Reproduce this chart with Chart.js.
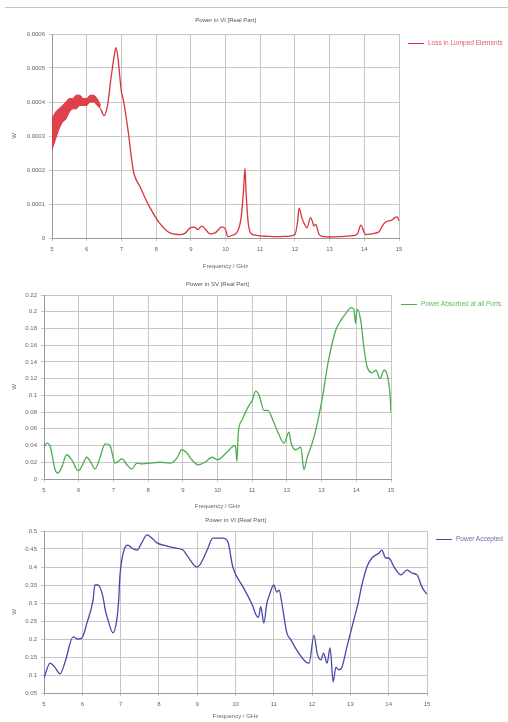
<!DOCTYPE html>
<html>
<head>
<meta charset="utf-8">
<script src="https://cdn.jsdelivr.net/npm/chart.js@4/dist/chart.umd.min.js"></script>
<style>
  body { margin: 0; background: #fff; width: 508px; height: 722px; overflow: hidden; position: relative; font-family: "Liberation Sans", Arial, sans-serif; }
  .topline { position: absolute; left: 5px; top: 7px; width: 503px; height: 1px; background: #c4c4c4; }
  .box { position: absolute; left: 0; width: 508px; }
  .legend { position: absolute; font-size: 6.5px; white-space: nowrap; line-height: 8px; }
  .legend span { display: inline-block; width: 16px; height: 1px; vertical-align: middle; margin-right: 4px; }
</style>
</head>
<body>
<div class="topline"></div>
<div class="box" style="top:10px;height:262px"><canvas id="lossChart"></canvas></div>
<div class="box" style="top:272px;height:240px"><canvas id="absorbChart"></canvas></div>
<div class="box" style="top:512px;height:210px"><canvas id="acceptChart"></canvas></div>
<div class="legend" style="left:408px;top:39px;color:#d9606a"><span style="background:#d8343c"></span>Loss in Lumped Elements</div>
<div class="legend" style="left:401px;top:300px;color:#5cb85c"><span style="background:#4cae4c"></span>Power Absorbed at all Ports</div>
<div class="legend" style="left:436px;top:535px;color:#6a6ab4"><span style="background:#4848a8"></span>Power Accepted</div>
<script>
// ---- data: chart 1 (Loss in Lumped Elements) ----
const lossBandFreq  = [5.0, 5.1, 5.2, 5.3, 5.4, 5.5, 5.6, 5.7, 5.8, 5.9, 6.0, 6.1, 6.2, 6.3, 6.4];
const lossBandUpper = [0.00035, 0.00037, 0.00038, 0.00039, 0.0004, 0.00041, 0.00041, 0.00042, 0.00042, 0.00041, 0.00041, 0.00042, 0.00042, 0.00041, 0.00039];
const lossBandLower = [0.00026, 0.00029, 0.00032, 0.00034, 0.00035, 0.00037, 0.00038, 0.00038, 0.00039, 0.00039, 0.00039, 0.0004, 0.0004, 0.00039, 0.00038];
const lossFreq = [6.4, 6.5, 6.6, 6.7, 6.8, 6.84, 6.9, 7.0, 7.05, 7.1, 7.2, 7.34, 7.54, 7.82, 8.1, 8.4, 8.7, 8.85, 8.98, 9.1,
                  9.2, 9.32, 9.45, 9.55, 9.7, 9.9, 10.0, 10.07, 10.2, 10.35, 10.45, 10.52, 10.56, 10.6, 10.66, 10.75, 10.9, 11.0, 11.2, 11.5,
                  11.8, 12.0, 12.08, 12.12, 12.2, 12.26, 12.35, 12.45, 12.5, 12.55, 12.6, 12.7, 12.85, 13.0, 13.3, 13.6, 13.8, 13.9, 14.0, 14.05,
                  14.2, 14.42, 14.55, 14.62, 14.7, 14.8, 14.88, 14.95, 15.0];
const lossValues = [0.00038, 0.00036, 0.00039, 0.00047, 0.00054, 0.00056, 0.00053, 0.00043, 0.00041, 0.00038, 0.00031, 0.0002, 0.00015, 0.00009, 0.000044, 0.000015, 0.00001, 0.000015, 0.00003, 0.000032,
                    0.000025, 0.000035, 0.000022, 0.000012, 0.000015, 0.000033, 0.000025, 0.000004, 0.000008, 0.00002, 0.00006, 0.00014, 0.000205, 0.00012, 0.00004, 0.000012, 0.000008, 0.000006, 0.000005, 0.000004,
                    0.000005, 0.00001, 0.00005, 0.000088, 0.00006, 0.000044, 0.00003, 0.00006, 0.00005, 0.000035, 0.00004, 0.00001, 0.000004, 0.000003, 0.000004, 0.000006, 0.000012, 0.000038, 0.000015, 0.00001,
                    0.000012, 0.000018, 0.00004, 0.000047, 0.00005, 0.000053, 0.00006, 0.000062, 0.00005];

// ---- data: chart 2 (Power Absorbed at all Ports) ----
const absorbFreq = [5.0, 5.08, 5.17, 5.32, 5.4, 5.52, 5.65, 5.8, 5.95, 6.0, 6.1, 6.23, 6.35, 6.47, 6.61, 6.76, 6.9, 7.05, 7.25, 7.39,
                    7.53, 7.68, 7.85, 8.05, 8.34, 8.63, 8.83, 8.97, 9.12, 9.26, 9.44, 9.64, 9.84, 10.0, 10.27, 10.5, 10.53, 10.56, 10.6, 10.7,
                    10.88, 11.0, 11.1, 11.2, 11.34, 11.45, 11.6, 11.75, 11.92, 12.06, 12.12, 12.25, 12.4, 12.49, 12.58, 12.78, 13.0, 13.2, 13.4, 13.56,
                    13.7, 13.85, 13.93, 13.98, 14.02, 14.13, 14.22, 14.3, 14.45, 14.57, 14.68, 14.8, 14.88, 14.97, 15.0];
const absorbValues = [0.038, 0.043, 0.040, 0.011, 0.007, 0.015, 0.029, 0.023, 0.011, 0.010, 0.016, 0.026, 0.020, 0.012, 0.025, 0.042, 0.040, 0.019, 0.024, 0.017,
                      0.012, 0.019, 0.018, 0.019, 0.020, 0.019, 0.025, 0.035, 0.031, 0.023, 0.017, 0.020, 0.026, 0.023, 0.032, 0.040, 0.036, 0.021, 0.056, 0.070,
                      0.086, 0.094, 0.105, 0.100, 0.082, 0.082, 0.070, 0.055, 0.043, 0.056, 0.043, 0.035, 0.038, 0.011, 0.025, 0.050, 0.092, 0.142, 0.177, 0.190,
                      0.198, 0.205, 0.203, 0.186, 0.203, 0.189, 0.157, 0.136, 0.127, 0.130, 0.120, 0.130, 0.126, 0.102, 0.079];

// ---- data: chart 3 (Power Accepted) ----
const acceptFreq = [5.0, 5.16, 5.28, 5.42, 5.55, 5.76, 5.89, 5.99, 6.12, 6.28, 6.33, 6.41, 6.54, 6.6, 6.67, 6.8, 6.9, 6.95, 6.98, 7.11,
                    7.19, 7.3, 7.43, 7.55, 7.69, 7.82, 7.95, 8.21, 8.42, 8.63, 8.76, 8.99, 9.07, 9.26, 9.41, 9.67, 9.8, 9.93, 10.2, 10.46,
                    10.52, 10.6, 10.66, 10.74, 10.82, 10.87, 11.0, 11.08, 11.14, 11.21, 11.34, 11.45, 11.6, 11.84, 11.92, 12.05, 12.13, 12.23, 12.3, 12.39,
                    12.47, 12.55, 12.62, 12.7, 12.78, 12.91, 13.09, 13.22, 13.27, 13.43, 13.56, 13.75, 13.82, 13.92, 14.0, 14.14, 14.32, 14.48, 14.61, 14.74,
                    14.87, 14.97, 15.0];
const acceptValues = [0.092, 0.133, 0.122, 0.103, 0.136, 0.206, 0.200, 0.203, 0.244, 0.308, 0.350, 0.350, 0.317, 0.280, 0.253, 0.217, 0.253, 0.308, 0.372, 0.453,
                      0.461, 0.452, 0.447, 0.467, 0.489, 0.480, 0.467, 0.458, 0.453, 0.447, 0.428, 0.400, 0.406, 0.447, 0.480, 0.480, 0.470, 0.400, 0.344, 0.289,
                      0.270, 0.260, 0.290, 0.244, 0.300, 0.317, 0.350, 0.330, 0.336, 0.300, 0.217, 0.197, 0.169, 0.136, 0.133, 0.211, 0.161, 0.142, 0.161, 0.133,
                      0.175, 0.081, 0.122, 0.114, 0.122, 0.178, 0.253, 0.308, 0.336, 0.400, 0.425, 0.439, 0.447, 0.425, 0.425, 0.400, 0.378, 0.392, 0.383, 0.378,
                      0.344, 0.328, 0.325];

const pts = (fs, vs) => fs.map((f, i) => ({ x: f, y: vs[i] }));

const tickFont = { family: 'Liberation Sans', size: 6 };
const gridColor = '#c6c6c6';

// title centred over the plot area, not the whole canvas
const plotTitle = {
    id: 'plotTitle',
    afterDraw(chart, args, opts) {
        const { ctx, chartArea } = chart;
        ctx.save();
        ctx.font = '6px "Liberation Sans"';
        ctx.fillStyle = '#555';
        ctx.textAlign = 'center';
        ctx.textBaseline = 'middle';
        ctx.fillText(opts.text, (chartArea.left + chartArea.right) / 2, opts.y);
        ctx.restore();
    }
};

function makeOptions(o) {
    return {
        responsive: true,
        maintainAspectRatio: false,
        animation: false,
        layout: { padding: { left: 0, right: o.padRight, top: o.padTop, bottom: 0 } },
        plugins: {
            legend: { display: false },
            tooltip: { enabled: false },
            title: { display: false },
            plotTitle: { text: o.title, y: o.titleY }
        },
        elements: { point: { radius: 0 }, line: { borderWidth: 1.3, cubicInterpolationMode: 'monotone' } },
        scales: {
            x: {
                type: 'linear',
                min: 5, max: 15,
                ticks: { stepSize: 1, color: '#666', font: tickFont, padding: 5, maxRotation: 0 },
                grid: { color: gridColor, tickLength: 3 },
                border: { color: '#999' },
                title: { display: true, text: 'Frequency / GHz', color: '#666', font: tickFont, padding: { top: 0, bottom: 2 } },
                afterFit: s => { s.height = o.xHeight; }
            },
            y: {
                min: o.yMin, max: o.yMax,
                ticks: { stepSize: o.yStep, color: '#666', font: tickFont, padding: 4, callback: v => String(+v.toFixed(4)) },
                grid: { color: gridColor, tickLength: 3 },
                border: { color: '#999' },
                title: { display: true, text: 'W', color: '#666', font: tickFont, padding: { top: 11, bottom: 0 } },
                afterFit: s => { s.width = o.yWidth; }
            }
        }
    };
}

new Chart(document.getElementById('lossChart'), {
    type: 'line',
    data: {
        datasets: [
            { data: pts(lossBandFreq, lossBandUpper), borderColor: '#d8343c', borderWidth: 1, fill: false },
            { data: pts(lossBandFreq, lossBandLower), borderColor: '#d8343c', borderWidth: 1, fill: '-1', backgroundColor: 'rgba(220, 45, 55, 0.9)' },
            { label: 'Loss in Lumped Elements', data: pts(lossFreq, lossValues), borderColor: '#d8343c', fill: false }
        ]
    },
    options: makeOptions({ title: 'Power in VI [Real Part]', titleY: 10, padTop: 24, padRight: 109, yWidth: 52, xHeight: 34, yMin: 0, yMax: 0.0006, yStep: 0.0001 }),
    plugins: [plotTitle]
});

new Chart(document.getElementById('absorbChart'), {
    type: 'line',
    data: {
        datasets: [
            { label: 'Power Absorbed at all Ports', data: pts(absorbFreq, absorbValues), borderColor: '#4cae4c', fill: false }
        ]
    },
    options: makeOptions({ title: 'Power in SV [Real Part]', titleY: 12, padTop: 23, padRight: 117, yWidth: 44, xHeight: 33, yMin: 0, yMax: 0.22, yStep: 0.02 }),
    plugins: [plotTitle]
});

new Chart(document.getElementById('acceptChart'), {
    type: 'line',
    data: {
        datasets: [
            { label: 'Power Accepted', data: pts(acceptFreq, acceptValues), borderColor: '#4848a8', fill: false }
        ]
    },
    options: makeOptions({ title: 'Power in VI [Real Part]', titleY: 8, padTop: 19, padRight: 81, yWidth: 44, xHeight: 29, yMin: 0.05, yMax: 0.5, yStep: 0.05 }),
    plugins: [plotTitle]
});
</script>
</body>
</html>
